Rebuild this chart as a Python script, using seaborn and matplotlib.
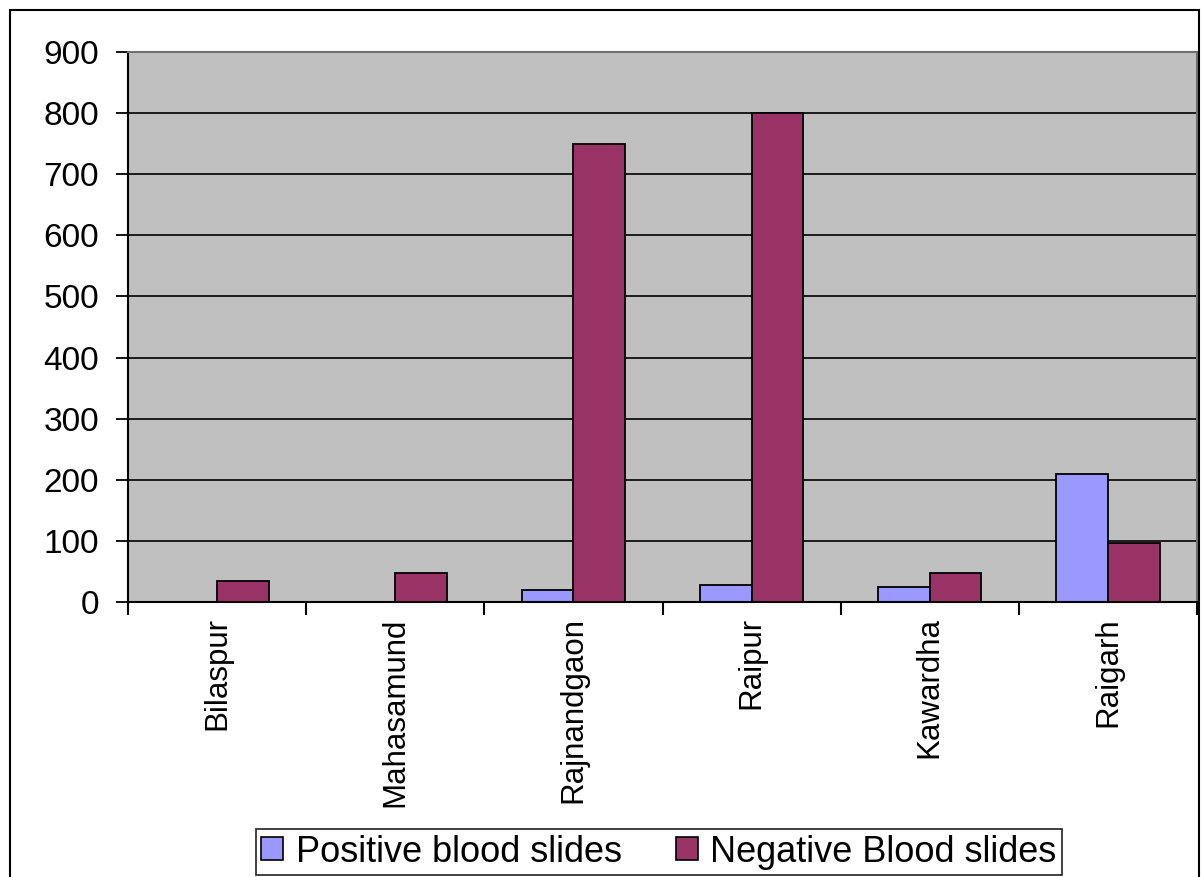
import matplotlib
matplotlib.use("Agg")
import matplotlib.pyplot as plt
import seaborn as sns
import pandas as pd
import numpy as np
from matplotlib.patches import Rectangle

districts = ["Bilaspur", "Mahasamund", "Rajnandgaon", "Raipur", "Kawardha", "Raigarh"]
positive = [0, 0, 19, 28, 24, 209]
negative = [35, 47, 750, 800, 47, 96]
series = ["Positive blood slides", "Negative Blood slides"]
yticks = [0, 100, 200, 300, 400, 500, 600, 700, 800, 900]

df = pd.DataFrame({
    "District": districts * 2,
    "Series": [series[0]] * len(districts) + [series[1]] * len(districts),
    "Value": positive + negative,
})

sns.set_theme(style="white")
plt.rcParams["font.family"] = ["Liberation Sans", "DejaVu Sans"]

fig = plt.figure(figsize=(12.01, 8.77), dpi=100)
W, H = 1201, 877
ax = fig.add_axes([128 / W, 1 - 602 / H, (1197 - 128) / W, (602 - 52) / H])
ax.set_facecolor("#C0C0C0")

sns.barplot(data=df, x="District", y="Value", hue="Series", order=districts,
            hue_order=series, palette=["#9999FF", "#993366"], width=0.58,
            edgecolor="black", linewidth=1.3, ax=ax, legend=True, saturation=1)

ax.set_ylim(0, 900)
ax.set_xlim(-0.5, len(districts) - 0.5)
ax.set_yticks(yticks)
ax.set_yticklabels([str(v) for v in yticks], fontsize=24, color="black")
ax.yaxis.grid(True, color="black", linewidth=1.2)
ax.set_axisbelow(True)
ax.set_xlabel("")
ax.set_ylabel("")

ax.set_xticks(range(len(districts)))
ax.set_xticklabels(districts, rotation=90, fontsize=22.5, color="black")
ax.set_xticks(np.arange(-0.5, len(districts) + 0.5, 1), minor=True)
ax.tick_params(axis="x", which="major", length=0, pad=11)
ax.tick_params(axis="x", which="minor", length=9, width=1.5, color="black", direction="out", bottom=True)
ax.tick_params(axis="y", which="major", length=9, width=1.3, color="black", direction="out", left=True, pad=12)

for s in ["left", "bottom"]:
    ax.spines[s].set_color("black")
    ax.spines[s].set_linewidth(1.5)
for s in ["top", "right"]:
    ax.spines[s].set_color("#707070")
    ax.spines[s].set_linewidth(1.5)

ax.get_legend().remove()
handles = [Rectangle((0, 0), 1, 1, facecolor=c, edgecolor="black", linewidth=1.2)
           for c in ["#9999FF", "#993366"]]
leg = fig.legend(handles, series, loc="center", bbox_to_anchor=(659 / W, 1 - 852 / H),
                 ncol=2, fontsize=26, frameon=True, fancybox=False,
                 handlelength=0.6, handleheight=0.6, handletextpad=0.35,
                 columnspacing=1.5, borderpad=0.15, borderaxespad=0)
for t in leg.get_texts():
    t.set_color("black")
leg.get_frame().set_edgecolor("black")
leg.get_frame().set_linewidth(1.3)

# outer chart border
fig.patches.append(Rectangle((10 / W, -0.01), (1199 - 10) / W, 1 - 10 / H + 0.01,
                             transform=fig.transFigure, fill=False,
                             edgecolor="black", linewidth=1.5))

fig.savefig("out.png", dpi=100)
